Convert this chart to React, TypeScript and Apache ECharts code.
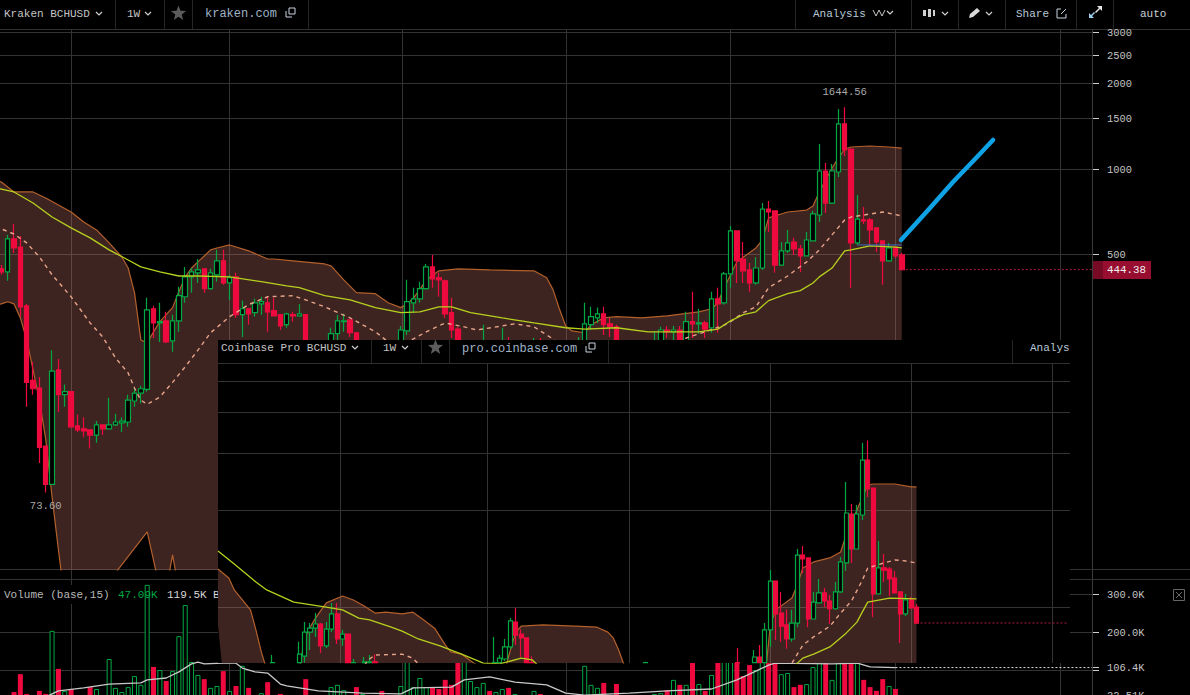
import React, { useEffect, useRef } from "react";
import * as echarts from "echarts";

// ---------- Kraken BCHUSD weekly: [week, open, close, low, high] ----------
const krakenCandles = [
  [0,447,436,426,461],[1,436,569,406,588],[2,569,529,508,642],[3,533,329,304,583],[4,332,179,147,337],
  [5,182,170,162,211],[6,171,106,93.4,187],[7,107,78.6,73.6,107],[8,78.6,196,78.6,232],[9,198,162,141,216],
  [10,162,166,147,176],[11,166,125,124,166],[12,126,122,120,138],[13,123,121,115,135],[14,122,117,105,122],
  [15,117,127,110,131],[16,127,123,117,127],[17,123,127,123,158],[18,127,130,126,139],[19,129,131,120,135],
  [20,130,155,125,162],[21,154,164,147,171],[22,164,170,151,174],[23,169,321,166,354],[24,324,289,256,332],
  [25,289,292,248,340],[26,294,248,246,316],[27,250,294,229,309],[28,294,360,269,387],[29,357,419,340,454],
  [30,419,436,369,450],[31,433,443,399,484],[32,447,381,369,447],[33,381,433,378,447],[34,426,477,403,521],
  [35,477,399,393,521],[36,399,416,348,426],[37,419,309,301,433],[38,309,324,258,346],[39,324,311,285,324],
  [40,314,340,304,351],[41,337,343,309,357],[42,340,316,269,357],[43,319,306,306,354],[44,309,282,273,309],
  [45,285,311,278,314],[46,309,306,292,316],[47,306,311,304,337],[48,309,240,230,309],
  [52,236,265,225,278],[53,265,294,252,309],[54,292,294,269,311],[55,296,267,258,296],[56,267,232,225,267],
  [63,242,273,236,282],[64,271,343,262,409],[65,340,351,314,384],[66,351,381,340,403],[67,381,454,378,465],
  [68,454,412,384,500],[69,416,409,357,433],[70,406,311,301,409],[71,314,273,256,354],[72,275,232,220,280],
  [76,236,245,225,285],[79,236,246,228,278],[80,246,232,220,258],[84,234,240,226,256],[85,240,232,226,256],
  [91,228,240,220,258],[92,242,287,230,340],[93,285,304,273,329],[94,301,311,289,327],[95,311,285,262,329],
  [96,287,280,258,301],[97,280,242,232,285],
  [103,240,250,232,269],[104,242,273,232,280],[105,273,269,256,282],[106,269,273,250,282],[107,273,242,232,282],
  [108,242,292,236,316],[109,292,287,256,372],[110,287,289,265,324],[111,289,275,256,294],[112,278,351,267,372],
  [113,351,337,267,384],[114,340,429,335,436],[115,429,607,384,632],[116,607,477,399,607],[117,484,440,399,555],
  [118,443,399,372,469],[119,399,450,393,492],[120,450,724,443,760],[121,724,707,602,772],[122,713,461,433,713],
  [123,461,517,461,555],[124,517,551,508,612],[125,555,525,500,574],[126,525,496,436,542],[127,496,564,496,602],
  [128,560,696,560,713],[129,690,984,652,1223],[130,984,760,701,1050],[131,760,984,754,1041],[132,976,1438,938,1623],
  [133,1438,1166,1110,1644.56],[134,1175,551,384,1175],[135,551,668,542,811],[136,663,658,642,736],[137,663,612,542,674],
  [138,622,555,512,622],[139,560,477,393,560],[140,477,529,473,551],[141,533,496,488,533],[142,500,444.38,443,508],
];
const krakenUpper = [
  [0,915],[1,900],[3,831],[6,831],[8,792],[10,748],[12,707],[14,652],[16,612],[18,551],[20,492],[21,450],[22,369],[23,252],[24,246],
  [25,269],[26,292],[27,309],[28,327],[29,372],[30,419],[31,450],[32,473],[33,496],[34,521],[35,529],[37,542],[40,517],[43,484],
  [44,484],[47,477],[52,465],[53,458],[55,409],[57,369],[60,366],[62,340],[64,327],[65,337],[66,354],[67,378],[68,409],[70,440],
  [73,447],[78,443],[85,440],[87,416],[88,378],[89,324],[90,282],[91,271],[93,267],[94,285],[96,301],[98,304],[102,301],[106,306],
  [111,316],[113,324],[114,340],[115,384],[116,426],[117,473],[120,529],[121,564],[122,674],[125,707],[128,718],[129,742],[130,831],
  [131,915],[132,1008],[133,1093],[134,1175],[135,1194],[138,1204],[141,1194],[143,1184],
];
const krakenLower = [
  [0,333],[1,337],[2,343],[3,337],[4,301],[5,252],[6,198],[7,155],[8,113],[9,71],[10,46.4],[11,31],[12,26.3],[18,26.3],[19,38.5],
  [24,53.6],[25,42.7],[26,33.5],[27,33.5],[28,44.5],[29,33.5],[35,30],[143,30],
];
const krakenMid = [
  [0,622],[1,617],[3,592],[5,551],[7,492],[9,426],[12,357],[15,289],[17,258],[19,218],[21,193],[22,171],[23,155],[24,150],[26,159],[28,179],
  [30,203],[32,232],[34,267],[37,304],[40,335],[43,357],[47,360],[49,348],[52,329],[56,301],[60,269],[62,248],[64,242],[66,254],[68,269],
  [71,289],[74,280],[76,273],[82,287],[85,280],[88,254],[90,232],[108,248],[109,256],[112,269],[115,284],[116,292],[118,314],[120,329],
  [122,384],[125,422],[128,473],[130,521],[132,588],[134,663],[135,679],[137,690],[140,707],[143,685],
];
const krakenSlow = [
  [0,858],[1,851],[3,831],[6,760],[9,679],[12,622],[15,574],[18,521],[21,480],[23,454],[26,436],[29,422],[32,422],[37,419],[42,403],[46,390],[48,384],
  [52,360],[56,348],[60,327],[64,314],[67,316],[70,329],[72,329],[75,314],[80,301],[85,289],[90,278],[93,275],[98,278],[103,269],[111,269],
  [114,275],[116,294],[118,309],[120,316],[122,346],[125,366],[127,375],[129,399],[130,419],[132,450],[134,517],[135,521],[138,538],[142,533],[143,529],
];
const krakenBlueLine = [[136,542],[143,542]];
const krakenLastLine = [[143,444.38],[173,444.38]];
const krakenTicks = [3000, 2500, 2000, 1500, 1000, 500];

// Kraken volume (thousands) by week
const volumeDown = [
  [0,20],[2,42],[3,89],[4,37],[5,25],[6,45],[7,37],[9,103],[11,50],[12,30],[13,30],[14,55],[16,30],[24,108],[26,71],[32,76],[35,97],[37,58],[39,53],
  [42,68],[43,30],[44,37],[46,25],[48,76],[49,25],[50,25],[55,30],[56,55],[58,25],[59,25],[60,45],[68,55],[69,50],[70,74],[71,61],[72,180],[77,45],
  [80,53],[83,25],[85,37],[86,25],[88,28],[89,25],[95,66],[96,30],[97,63],[99,22],[101,20],[105,47],[107,61],[109,140],[111,45],[113,135],[116,200],
  [117,84],[118,113],[121,140],[122,165],[125,55],[126,61],[130,135],[133,180],[134,260],[136,74],[137,55],[138,45],[139,76],[141,50],[142,32.51],
];
const volumeUp = [
  [1,20],[8,203],[10,45],[15,50],[17,129],[18,53],[19,42],[20,55],[21,84],[22,61],[23,324],[25,100],[27,97],[28,189],[29,271],[30,121],[31,87],[33,53],
  [34,58],[36,45],[38,111],[40,30],[41,39],[45,25],[47,25],[51,30],[52,55],[53,61],[54,47],[57,37],[61,25],[62,30],[63,58],[64,190],[65,55],[66,79],
  [67,55],[73,150],[74,71],[75,55],[76,66],[78,42],[79,50],[81,37],[82,25],[84,45],[87,25],[90,25],[91,30],[92,111],[93,61],[94,53],[98,25],[100,25],
  [102,28],[103,37],[104,39],[106,74],[108,61],[110,63],[112,87],[114,180],[115,250],[119,100],[120,215],[123,89],[124,92],[127,63],[128,108],[129,230],
  [131,74],[132,210],[135,150],[140,58],
];
const volumeAvg = [
  [8,29],[9,37],[10,45],[14,53],[18,63],[23,66],[24,74],[27,79],[29,95],[31,116],[32,121],[33,116],[36,118],[38,118],[39,105],[41,95],[43,92],[45,63],[46,58],
  [51,45],[58,39],[64,37],[66,53],[72,55],[74,74],[78,82],[82,68],[87,61],[90,39],[93,34],[100,39],[106,45],[113,50],[117,74],[120,97],[122,113],[123,118],
  [132,116],[136,118],[138,108],[142,106.4],
];
const volumeAvgLast = [[142,106.4],[173,106.4]];
const volumeTicks = [300, 200, 100, 106.4, 32.51];
const volumeTickLabels = ["300.0K", "200.0K", "", "106.4K", "32.51K"];

// ---------- Coinbase Pro BCHUSD weekly: [weeks before last, open, close, low, high] ----------
const coinbaseCandles = [
  [0,500,446,443,511],[1,526,497,494,537],[2,476,526,469,549],[3,557,476,387,557],[4,615,553,553,647],[5,656,611,541,666],
  [6,661,651,598,730],[7,549,661,549,801],[8,1170,549,466,1170],[9,1429,1162,1097,1642],[10,965,1429,931,1614],[11,757,972,757,1036],
  [12,972,757,685,1044],[13,685,979,647,1222],[14,557,690,553,715],[15,494,557,490,598],[16,522,494,443,545],[17,553,522,500,573],
  [18,515,553,515,611],[19,459,518,459,557],[20,710,459,433,710],[21,725,705,638,773],[22,446,725,433,757],[23,398,446,390,490],
  [24,440,398,371,490],[25,479,436,390,557],[26,602,476,395,602],[27,425,602,376,651],[28,336,425,336,446],[29,350,336,336,381],
  [30,336,350,336,368],[33,336.5,336,336,373],[50,336,336.5,336,338],[71,336.5,336,336,352],[72,401,336,336,401],[73,412,401,350,427],
  [74,449,409,381,497],[75,376,453,370,462],[76,345,376,340,398],[77,336,347,336,355],[78,336,336.5,336,404],[100,338,336,336,357],
  [101,336,338,336,355],[102,336,338,336,350],[104,336,336.5,336,345],[105,412,336,336,412],[106,398,412,379,425],[107,476,398,384,515],
  [108,427,476,418,515],[109,379,427,373,449],[110,443,379,360,446],[111,430,443,404,479],[112,418,430,368,446],[113,352,418,336,449],
  [114,336,357,336,390],[119,336,336.5,336,355],
];
const coinbaseUpper = [
  [0,656],[2,615],[3,565],[6,490],[7,425],[8,363],[9,319],[10,277],[14,257],[15,319],[16,401],[17,433],[18,462],[20,515],[23,541],[25,526],[27,504],[29,479],
  [31,482],[34,476],[36,482],[38,456],[40,430],[42,381],[43,363],[45,357],[49,319],[52,277],[54,368],[55,418],[56,436],[60,440],[66,436],[70,433],[72,418],
  [73,401],[74,368],[75,330],[76,277],[100,277],[101,297],[102,440],[103,490],[106,533],[107,586],[108,661],[110,690],[113,710],[115,741],[116,836],[118,1000],
  [120,1196],[121,1204],[125,1204],[128,1179],[129,1179],
];
const coinbaseLower = [[0,440],[1,297],[2,200],[129,200]];
const coinbaseMid = [
  [27,330],[28,345],[29,355],[34,357],[36,347],[37,333],[38,297],[104,297],[106,335],[108,381],[110,404],[113,436],[115,479],[117,522],[119,606],[120,661],
  [123,685],[125,700],[127,695],[129,685],
];
const coinbaseSlow = [
  [0,746],[3,680],[7,598],[9,565],[14,518],[20,500],[23,490],[26,462],[28,456],[32,433],[34,421],[37,398],[41,379],[45,357],[49,335],[52,333],[56,347],[58,343],
  [60,319],[105,319],[107,335],[108,347],[110,357],[113,376],[116,415],[118,449],[119,483],[120,518],[124,533],[129,530],
];
const coinbaseLastLine = [[129,446],[157,446]];
const coinbaseTicks = [2500, 2000, 1500, 1000, 500];

const MONO = '"Liberation Mono", "DejaVu Sans Mono", monospace';
const GRID = "#333333";
const UP = "#00a844";
const DOWN = "#ee0a3e";
const TXT = "#c4c4c4";
const KRAKEN_N = 174;
const COINBASE_N = 158;

const cats = (n: number) => Array.from({ length: n }, (_, i) => String(i));

const krakenData = () => {
  const out: any[] = Array.from({ length: KRAKEN_N }, () => ["-", "-", "-", "-"]);
  krakenCandles.forEach(([i, o, c, l, h]) => { out[i + 1] = [o, c, l, h]; });
  return out;
};
const coinbaseData = () => {
  const out: any[] = Array.from({ length: COINBASE_N }, () => ["-", "-", "-", "-"]);
  coinbaseCandles.forEach(([k, o, c, l, h]) => { out[129 - k] = [o, c, l, h]; });
  return out;
};
const volData = (rows: number[][]) => {
  const out: any[] = Array.from({ length: KRAKEN_N }, () => "-");
  rows.forEach(([i, v]) => { out[i + 1] = v; });
  return out;
};

const bandFill = (upper: number[][], lower: number[][], xi: number, yi: number, z: number) => ({
  type: "custom",
  xAxisIndex: xi,
  yAxisIndex: yi,
  z,
  clip: true,
  silent: true,
  data: [[0, 0]],
  renderItem: (_p: any, api: any) => ({
    type: "polygon",
    shape: { points: [...upper, ...[...lower].reverse()].map(([p, v]) => api.coord([p, v])) },
    style: { fill: "rgba(205,120,105,0.30)" },
  }),
});

const line = (data: number[][], xi: number, yi: number, z: number, color: string, width: number, dash?: any) => ({
  type: "line",
  xAxisIndex: xi,
  yAxisIndex: yi,
  z,
  data,
  showSymbol: false,
  symbol: "none",
  silent: true,
  clip: true,
  lineStyle: { color, width, type: dash || "solid" },
});

const hTicks = (values: number[], labels: string[], xi: number, yi: number, z: number, x0: number, x1: number, withAxis: boolean, gridFlags?: boolean[]) => ({
  type: "custom",
  xAxisIndex: xi,
  yAxisIndex: yi,
  z,
  silent: true,
  data: values.map((v) => [0, v]),
  renderItem: (p: any, api: any) => {
    const y = Math.floor(api.coord([0, api.value(1)])[1]) + 0.5;
    const children: any[] = [];
    if (!gridFlags || gridFlags[p.dataIndex]) {
      children.push({ type: "line", shape: { x1: x0, y1: y, x2: x1, y2: y }, style: { stroke: GRID, lineWidth: 1 } });
    }
    if (withAxis) {
      if (y < 690) children.push({ type: "line", shape: { x1: 1093, y1: y, x2: 1099, y2: y }, style: { stroke: "#cfcfcf", lineWidth: 1 } });
      const text = labels[p.dataIndex];
      if (text) children.push({
        type: "text",
        x: 1107,
        y,
        style: { text, fill: TXT, font: `10.4px ${MONO}`, align: "left", verticalAlign: "middle" },
      });
    }
    return { type: "group", children };
  },
});

const peak = (pos: number, value: number, text: string, position: string, distance: number) => ({
  coord: [pos, value],
  symbol: "circle",
  symbolSize: 0,
  label: { show: true, formatter: text, position, distance, color: "#a8a8a8", fontFamily: MONO, fontSize: 10.6 },
});

// ---------- page chrome ----------
const gLine = (x1: number, y1: number, x2: number, y2: number, z: number, stroke = GRID, lineWidth = 1) => ({
  type: "line", z, silent: true, shape: { x1, y1, x2, y2 }, style: { stroke, lineWidth },
});
const gText = (x: number, y: number, text: string, z: number, fill = TXT, size = 11) => ({
  type: "text", x, y, z, silent: true,
  style: { text, fill, font: `${size}px ${MONO}`, align: "left", verticalAlign: "middle" },
});
const chevron = (x: number, y: number, z: number) => ({
  type: "polyline", z, silent: true,
  shape: { points: [[x, y], [x + 3, y + 3], [x + 6, y]] },
  style: { stroke: "#d0d0d0", lineWidth: 1.2, fill: "none" },
});
const star = (cx: number, cy: number, r: number, z: number) => {
  const pts: number[][] = [];
  for (let i = 0; i < 10; i++) {
    const a = -Math.PI / 2 + (i * Math.PI) / 5;
    const rr = i % 2 ? r * 0.42 : r;
    pts.push([cx + rr * Math.cos(a), cy + rr * Math.sin(a)]);
  }
  return { type: "polygon", z, silent: true, shape: { points: pts }, style: { fill: "#5c5c5c" } };
};
const popout = (x: number, y: number, z: number) => [
  { type: "rect", z, silent: true, shape: { x: x + 3, y: y, width: 6, height: 6 }, style: { stroke: "#c8d4e0", fill: "none", lineWidth: 1 } },
  { type: "polyline", z, silent: true, shape: { points: [[x, y + 3], [x, y + 9], [x + 6, y + 9]] }, style: { stroke: "#c8d4e0", fill: "none", lineWidth: 1 } },
];

const chrome = (): any[] => {
  const els: any[] = [];
  // Kraken pane lines
  [71.5, 229.5, 402.5, 566.5, 730.5, 895.5, 1060.5].forEach((x) => els.push(gLine(x, 29, x, 695, 1)));
  els.push(gLine(1092.5, 29, 1092.5, 695, 1, "#3a3a3a"));
  els.push(gLine(0, 569.5, 1190, 569.5, 1));
  els.push(gLine(0, 579.5, 1190, 579.5, 1));
  els.push(gLine(0, 29.5, 1190, 29.5, 1, "#303030"));
  // Kraken header
  [115.5, 164.5, 192.5, 308.5, 795.5, 911.5, 958.5, 1005.5, 1076.5, 1113.5].forEach((x) => els.push(gLine(x, 0, x, 29, 1, "#262626")));
  els.push(gText(4, 13.5, "Kraken BCHUSD", 6));
  els.push(chevron(96, 12, 6));
  els.push(gText(127, 13.5, "1W", 6));
  els.push(chevron(145, 12, 6));
  els.push(star(178.5, 13.5, 8, 6));
  els.push(gText(205, 14, "kraken.com", 6, "#9fb3c6", 12));
  els.push(...popout(286, 8, 6));
  els.push(gText(813, 13.5, "Analysis", 6, "#b8c8d8"));
  els.push({ type: "polyline", z: 6, silent: true, shape: { points: [[873, 10], [876, 16], [879, 10], [882, 16], [885, 10]] }, style: { stroke: "#c8c8c8", fill: "none", lineWidth: 1 } });
  els.push(chevron(887, 11, 6));
  els.push({ type: "rect", z: 6, silent: true, shape: { x: 923, y: 10, width: 3, height: 6 }, style: { fill: "#d0d0d0" } });
  els.push({ type: "rect", z: 6, silent: true, shape: { x: 928, y: 9, width: 3, height: 8 }, style: { fill: "#d0d0d0" } });
  els.push({ type: "rect", z: 6, silent: true, shape: { x: 933, y: 10, width: 2, height: 6 }, style: { fill: "#d0d0d0" } });
  els.push(chevron(942, 12, 6));
  els.push({ type: "polygon", z: 6, silent: true, shape: { points: [[969, 18], [970, 14], [977, 8], [980, 11], [973, 17]] }, style: { fill: "#d8d8d8" } });
  els.push(chevron(986, 12, 6));
  els.push(gText(1016, 13.5, "Share", 6, "#b8c8d8"));
  els.push({ type: "polyline", z: 6, silent: true, shape: { points: [[1061, 9], [1057, 9], [1057, 18], [1066, 18], [1066, 14]] }, style: { stroke: "#c8d4e0", fill: "none", lineWidth: 1 } });
  els.push({ type: "polyline", z: 6, silent: true, shape: { points: [[1061, 14], [1066, 9]] }, style: { stroke: "#c8d4e0", fill: "none", lineWidth: 1 } });
  els.push({ type: "polygon", z: 6, silent: true, shape: { points: [[1102, 6], [1102, 11], [1100, 9], [1096, 13], [1095, 12], [1099, 8], [1097, 6]] }, style: { fill: "#e8e8e8" } });
  els.push({ type: "polygon", z: 6, silent: true, shape: { points: [[1089, 18], [1089, 13], [1091, 15], [1094, 12], [1095, 13], [1092, 16], [1094, 18]] }, style: { fill: "#9fd0f0" } });
  els.push(gText(1140, 14, "auto", 6, "#c8d0d8"));
  // Volume legend
  els.push({ type: "rect", z: 2, silent: true, shape: { x: 0, y: 585, width: 218, height: 19 }, style: { fill: "#000" } });
  els.push(gText(4, 595, "Volume (base,15)", 7, "#b8b8b8"));
  els.push(gText(118, 595, "47.09K", 7, UP));
  els.push(gText(167, 595, "119.5K", 7, "#d8d8d8"));
  els.push(gText(213, 595, "B", 7, "#d8d8d8"));
  // Volume pane close box
  els.push({ type: "rect", z: 6, silent: true, shape: { x: 1173.5, y: 589.5, width: 11, height: 11 }, style: { stroke: "#666", fill: "none", lineWidth: 1 } });
  els.push(gLine(1176, 592, 1182, 598, 6, "#666"));
  els.push(gLine(1182, 592, 1176, 598, 6, "#666"));
  // last price tag
  els.push({ type: "rect", z: 6, silent: true, shape: { x: 1093, y: 261, width: 11, height: 18 }, style: { fill: "#760a24" } });
  els.push({ type: "rect", z: 6, silent: true, shape: { x: 1103, y: 261, width: 48, height: 18 }, style: { fill: "#980e30" } });
  els.push(gText(1107, 270, "444.38", 7, "#f0f0f0", 10.8));
  // drawn arrow
  els.push({
    type: "polyline", z: 7, silent: true,
    shape: { points: [[901, 240], [930, 208], [953, 182], [977, 157], [993, 140]] },
    style: { stroke: "#0fa3e6", lineWidth: 4.5, lineCap: "round", lineJoin: "round", fill: "none" },
  });
  // Coinbase panel on top of Kraken
  els.push({ type: "rect", z: 10, silent: true, shape: { x: 218, y: 340, width: 852, height: 323 }, style: { fill: "#000" } });
  [340.5, 487.5, 629.5, 770.5, 911.5, 1052.5].forEach((x) => els.push(gLine(x, 363, x, 663, 11)));
  els.push(gLine(218, 363.5, 1070, 363.5, 16, "#303030"));
  [371.5, 421.5, 449.5, 608.5, 1012.5].forEach((x) => els.push(gLine(x, 340, x, 363, 16, "#262626")));
  els.push(gText(221, 347.5, "Coinbase Pro BCHUSD", 16));
  els.push(chevron(352, 346, 16));
  els.push(gText(383, 347.5, "1W", 16));
  els.push(chevron(402, 346, 16));
  els.push(star(435.5, 347.5, 8, 16));
  els.push(gText(462, 348.5, "pro.coinbase.com", 16, "#9fb3c6", 12));
  els.push(...popout(586, 343, 16));
  els.push(gText(1030, 347.5, "Analys", 16, "#b8c8d8"));
  return els;
};

const buildOption = (): any => ({
  animation: false,
  backgroundColor: "#000",
  grid: [
    { left: -5, top: 29, width: 1097, height: 541, outerBoundsMode: "none" },
    { left: -5, top: 570, width: 1097, height: 138, outerBoundsMode: "none" },
    { left: 218, top: 363, width: 850.1, height: 300, outerBoundsMode: "none" },
  ],
  xAxis: [
    { gridIndex: 0, type: "category", data: cats(KRAKEN_N), boundaryGap: false, show: false },
    { gridIndex: 1, type: "category", data: cats(KRAKEN_N), boundaryGap: false, show: false },
    { gridIndex: 2, type: "category", data: cats(COINBASE_N), boundaryGap: false, show: false },
  ],
  yAxis: [
    { gridIndex: 0, type: "log", logBase: 10, min: 39.41, max: 3092.7, show: false },
    { gridIndex: 1, type: "value", min: 0, max: 363.16, show: false },
    { gridIndex: 2, type: "log", logBase: 10, min: 335.27, max: 2857.7, show: false },
  ],
  graphic: { elements: chrome() },
  series: [
    hTicks(krakenTicks, krakenTicks.map(String), 0, 0, 1, 0, 1092, true),
    hTicks(volumeTicks, volumeTickLabels, 1, 1, 1, 0, 1092, true, [true, true, true, false, false]),
    bandFill(krakenUpper, krakenLower, 0, 0, 3),
    line(krakenUpper, 0, 0, 3, "#b3602b", 1.2),
    line(krakenLower, 0, 0, 3, "#b3602b", 1.2),
    {
      type: "bar", xAxisIndex: 1, yAxisIndex: 1, z: 3, silent: true, barWidth: 5, barGap: "-100%",
      data: volData(volumeUp),
      itemStyle: { color: "#000", borderColor: UP, borderWidth: 1 },
    },
    {
      type: "bar", xAxisIndex: 1, yAxisIndex: 1, z: 3, silent: true, barWidth: 5, barGap: "-100%",
      data: volData(volumeDown),
      itemStyle: { color: DOWN },
    },
    line(volumeAvg, 1, 1, 4, "#c8c8c8", 1.3),
    line(volumeAvgLast, 1, 1, 4, "#e0e0e0", 1, [2, 2]),
    {
      type: "candlestick", xAxisIndex: 0, yAxisIndex: 0, z: 4, silent: true, barWidth: 5,
      data: krakenData(),
      itemStyle: { color: "#000", color0: DOWN, borderColor: UP, borderColor0: DOWN, borderWidth: 1.2 },
      markPoint: {
        silent: true,
        data: [peak(134, 1644.56, "1644.56", "top", 10), peak(8, 73.6, "73.60", "bottom", 8)],
      },
    },
    line(krakenMid, 0, 0, 5, "#e8a48a", 1.4, [4, 4]),
    line(krakenSlow, 0, 0, 5, "#b6d01e", 1.3),
    line(krakenBlueLine, 0, 0, 5, "#3a6fc4", 1),
    line(krakenLastLine, 0, 0, 5, "#b01a40", 1, [2, 2]),

    hTicks(coinbaseTicks, [], 2, 2, 11, 218, 1070, false),
    bandFill(coinbaseUpper, coinbaseLower, 2, 2, 12),
    line(coinbaseUpper, 2, 2, 12, "#b3602b", 1.2),
    {
      type: "candlestick", xAxisIndex: 2, yAxisIndex: 2, z: 13, silent: true, barWidth: 4.6,
      data: coinbaseData(),
      itemStyle: { color: "#000", color0: DOWN, borderColor: UP, borderColor0: DOWN, borderWidth: 1.2 },
      markPoint: { silent: true, data: [peak(120, 1642, "1642.00", "top", 8)] },
    },
    line(coinbaseMid, 2, 2, 14, "#e8a48a", 1.4, [4, 4]),
    line(coinbaseSlow, 2, 2, 14, "#b6d01e", 1.3),
    line(coinbaseLastLine, 2, 2, 14, "#b01a40", 1, [2, 2]),
  ],
});

export default function App() {
  const ref = useRef<HTMLDivElement>(null);
  useEffect(() => {
    document.body.style.margin = "0";
    document.body.style.background = "#000";
    const chart = echarts.init(ref.current!, undefined, { renderer: "svg" });
    chart.setOption(buildOption());
    return () => chart.dispose();
  }, []);
  return <div ref={ref} style={{ width: 1190, height: 695, overflow: "hidden" }} />;
}
